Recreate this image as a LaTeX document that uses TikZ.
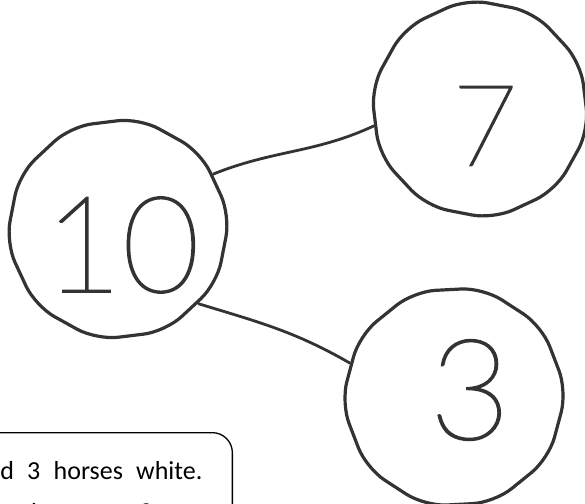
\documentclass[tikz,border=0pt]{standalone}
\usepackage{fontspec}
\usetikzlibrary{shapes.geometric}
\newfontfamily\storyfont{Carlito}
\IfFontExistsTF{Lato Thin}{\newfontfamily\digitfont{Lato Thin}[FakeBold=1.5]}{%
  \IfFontExistsTF{Lato Light}{\newfontfamily\digitfont{Lato Light}}{\newfontfamily\digitfont{Liberation Sans}}}

\begin{document}
\begin{tikzpicture}[
			x=1pt, y=1pt,
			numring/.style={regular polygon, regular polygon sides=10, draw=black!80, line width=3.2pt,
				inner sep=0pt, rounded corners=22pt},
			digit/.style={font=\digitfont\fontsize{#1}{#1}\selectfont, text=black!80},
			link/.style={draw=black!80, line width=2.8pt},
			storybox/.style={rectangle, draw, line width=1.3pt, rounded corners=20pt, align=left,
				inner xsep=30pt, inner ysep=29pt, font=\storyfont\fontsize{26}{42}\selectfont}
		]
		\useasboundingbox (0,0) rectangle (585,503);
		\clip (0,0) rectangle (585,503);

		% number bond
		\node (ten) [numring, minimum size=226pt, shape border rotate=7,
			label={[digit=134, xshift=4pt, yshift=-16pt]center:10}] at (118,274) {};
		\node (seven) [numring, minimum size=222pt, shape border rotate=-11,
			label={[digit=113, xshift=5pt, yshift=-17pt]center:7}] at (480,394) {};
		\node (three) [numring, minimum size=226pt, shape border rotate=3,
			label={[digit=140, xshift=16pt, yshift=7pt]center:3}] at (454,106) {};

		% story text
		\node (story) [storybox, anchor=north east] at (233,71)
			{\makebox[202pt][s]{d 3 horses white.}\\ny horses are?};

		% links
		\draw[link] (ten.30) to[out=22, in=205] (seven.189);
		\draw[link] (ten.-43) to[out=-17, in=150] (three.162);
	\end{tikzpicture}
\end{document}
